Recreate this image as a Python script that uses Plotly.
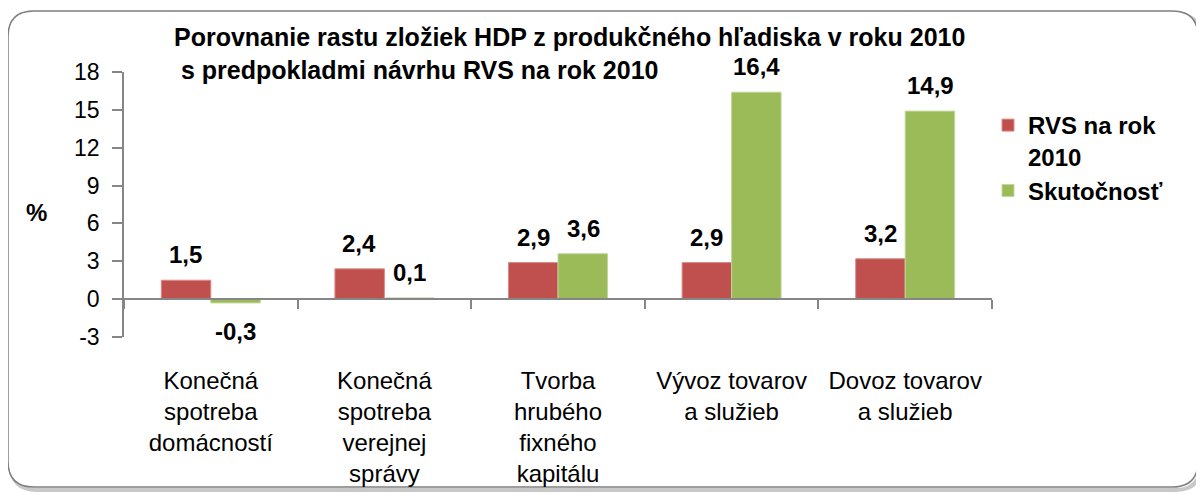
import plotly.graph_objects as go

categories = [
    "Konečná<br>spotreba<br>domácností",
    "Konečná<br>spotreba<br>verejnej<br>správy",
    "Tvorba<br>hrubého<br>fixného<br>kapitálu",
    "Vývoz tovarov<br>a služieb",
    "Dovoz tovarov<br>a služieb",
]
rvs = [1.5, 2.4, 2.9, 2.9, 3.2]
skut = [-0.3, 0.1, 3.6, 16.4, 14.9]
series_names = ["RVS na rok<br>2010", "Skutočnosť"]
y_ticks = [-3, 0, 3, 6, 9, 12, 15, 18]
y_tick_labels = ["-3", "0", "3", "6", "9", "12", "15", "18"]

FONT = "Liberation Sans, Arial, sans-serif"
RED = "#C0504D"
GREEN = "#9BBB59"
AXIS = "#868686"

# page body has an 8px margin: work in screen pixels and subtract it
OFF = 8
W, H = 1204, 495
PL, PR, PT, PB = 124, 992, 72, 337   # plot area in screen pixels
ML, MT = PL - OFF, PT - OFF
MR = W - (PR - OFF)
MB = H - (PB - OFF)
PW, PH = PR - PL, PB - PT


def px(x):
    return (x - PL) / PW


def py(y):
    return (PB - y) / PH


fig = go.Figure()
fig.add_bar(x=categories, y=rvs, name=series_names[0], marker_color=RED,
            marker_line=dict(color="#D98B89", width=1))
fig.add_bar(x=categories, y=skut, name=series_names[1], marker_color=GREEN,
            marker_line=dict(color="#C3D69B", width=1))


def fmt(v):
    return f"{v:.1f}".replace(".", ",")


BOLD = dict(family=FONT, size=24, color="black", weight="bold")

annotations = []
for vals, shift in ((rvs, -25), (skut, 25)):
    for c, v in zip(categories, vals):
        annotations.append(dict(
            x=c, y=v, xref="x", yref="y", text=fmt(v), showarrow=False,
            xshift=shift, yshift=10 if v >= 0 else -13,
            yanchor="bottom" if v >= 0 else "top",
            font=BOLD,
        ))

TITLE = dict(family=FONT, size=25, color="black", weight="bold")
annotations.append(dict(
    x=px(172), y=py(37), xref="paper", yref="paper", xanchor="left", yanchor="middle",
    text="Porovnanie rastu zložiek HDP z produkčného hľadiska v roku 2010",
    showarrow=False, font=TITLE))
annotations.append(dict(
    x=px(172), y=py(70), xref="paper", yref="paper", xanchor="left", yanchor="middle",
    text=" s predpokladmi návrhu RVS na rok 2010",
    showarrow=False, font=TITLE))
annotations.append(dict(
    x=px(36), y=py(212), xref="paper", yref="paper", xanchor="center", yanchor="middle",
    text="%", showarrow=False, font=BOLD))

# rounded frame (screen pixels)
x0, y0, x1, y1, r = 8, 11, 1198, 487, 26


def frame(dx, dy):
    a, b, c, d = x0 + dx, y0 + dy, x1 + dx, y1 + dy
    pts = [
        f"M {px(a + r)} {py(b)}",
        f"L {px(c - r)} {py(b)}",
        f"Q {px(c)} {py(b)} {px(c)} {py(b + r)}",
        f"L {px(c)} {py(d - r)}",
        f"Q {px(c)} {py(d)} {px(c - r)} {py(d)}",
        f"L {px(a + r)} {py(d)}",
        f"Q {px(a)} {py(d)} {px(a)} {py(d - r)}",
        f"L {px(a)} {py(b + r)}",
        f"Q {px(a)} {py(b)} {px(a + r)} {py(b)}",
        "Z",
    ]
    return " ".join(pts)


shapes = [
    dict(type="path", path=frame(3, 3), xref="paper", yref="paper",
         line=dict(color="#C8C8C8", width=4), layer="below"),
    dict(type="path", path=frame(0, 0), xref="paper", yref="paper",
         line=dict(color="#7F7F7F", width=1.5), fillcolor="white", layer="below"),
]

fig.update_layout(
    width=W, height=H,
    margin=dict(l=ML, r=MR, t=MT, b=MB, autoexpand=False),
    paper_bgcolor="white", plot_bgcolor="rgba(0,0,0,0)",
    barmode="group", bargap=0.43, bargroupgap=0,
    font=dict(family=FONT, color="black"),
    showlegend=True,
    legend=dict(xref="container", yref="container", x=(988 - OFF) / W, y=1 - (103 - OFF) / H,
                xanchor="left", yanchor="top", valign="top",
                font=BOLD, itemwidth=30, tracegroupgap=0, bgcolor="rgba(0,0,0,0)"),
    annotations=annotations,
    shapes=shapes,
    xaxis=dict(
        anchor="free", position=3 / 21, showline=True, linecolor=AXIS, linewidth=1.5,
        ticks="outside", tickson="boundaries", ticklen=9, tickcolor=AXIS, tickwidth=1.5,
        tickfont=dict(family=FONT, size=24, color="black"), ticklabelstandoff=60,
        showgrid=False, zeroline=False,
    ),
    yaxis=dict(
        range=[-3, 18], tickvals=y_ticks, ticktext=y_tick_labels,
        showline=True, linecolor=AXIS, linewidth=1.5,
        ticks="outside", ticklen=10, tickcolor=AXIS, tickwidth=1.5,
        tickfont=dict(family=FONT, size=23, color="black"),
        showgrid=False, zeroline=False, ticklabelstandoff=8,
    ),
)

fig.write_html("out.html")
